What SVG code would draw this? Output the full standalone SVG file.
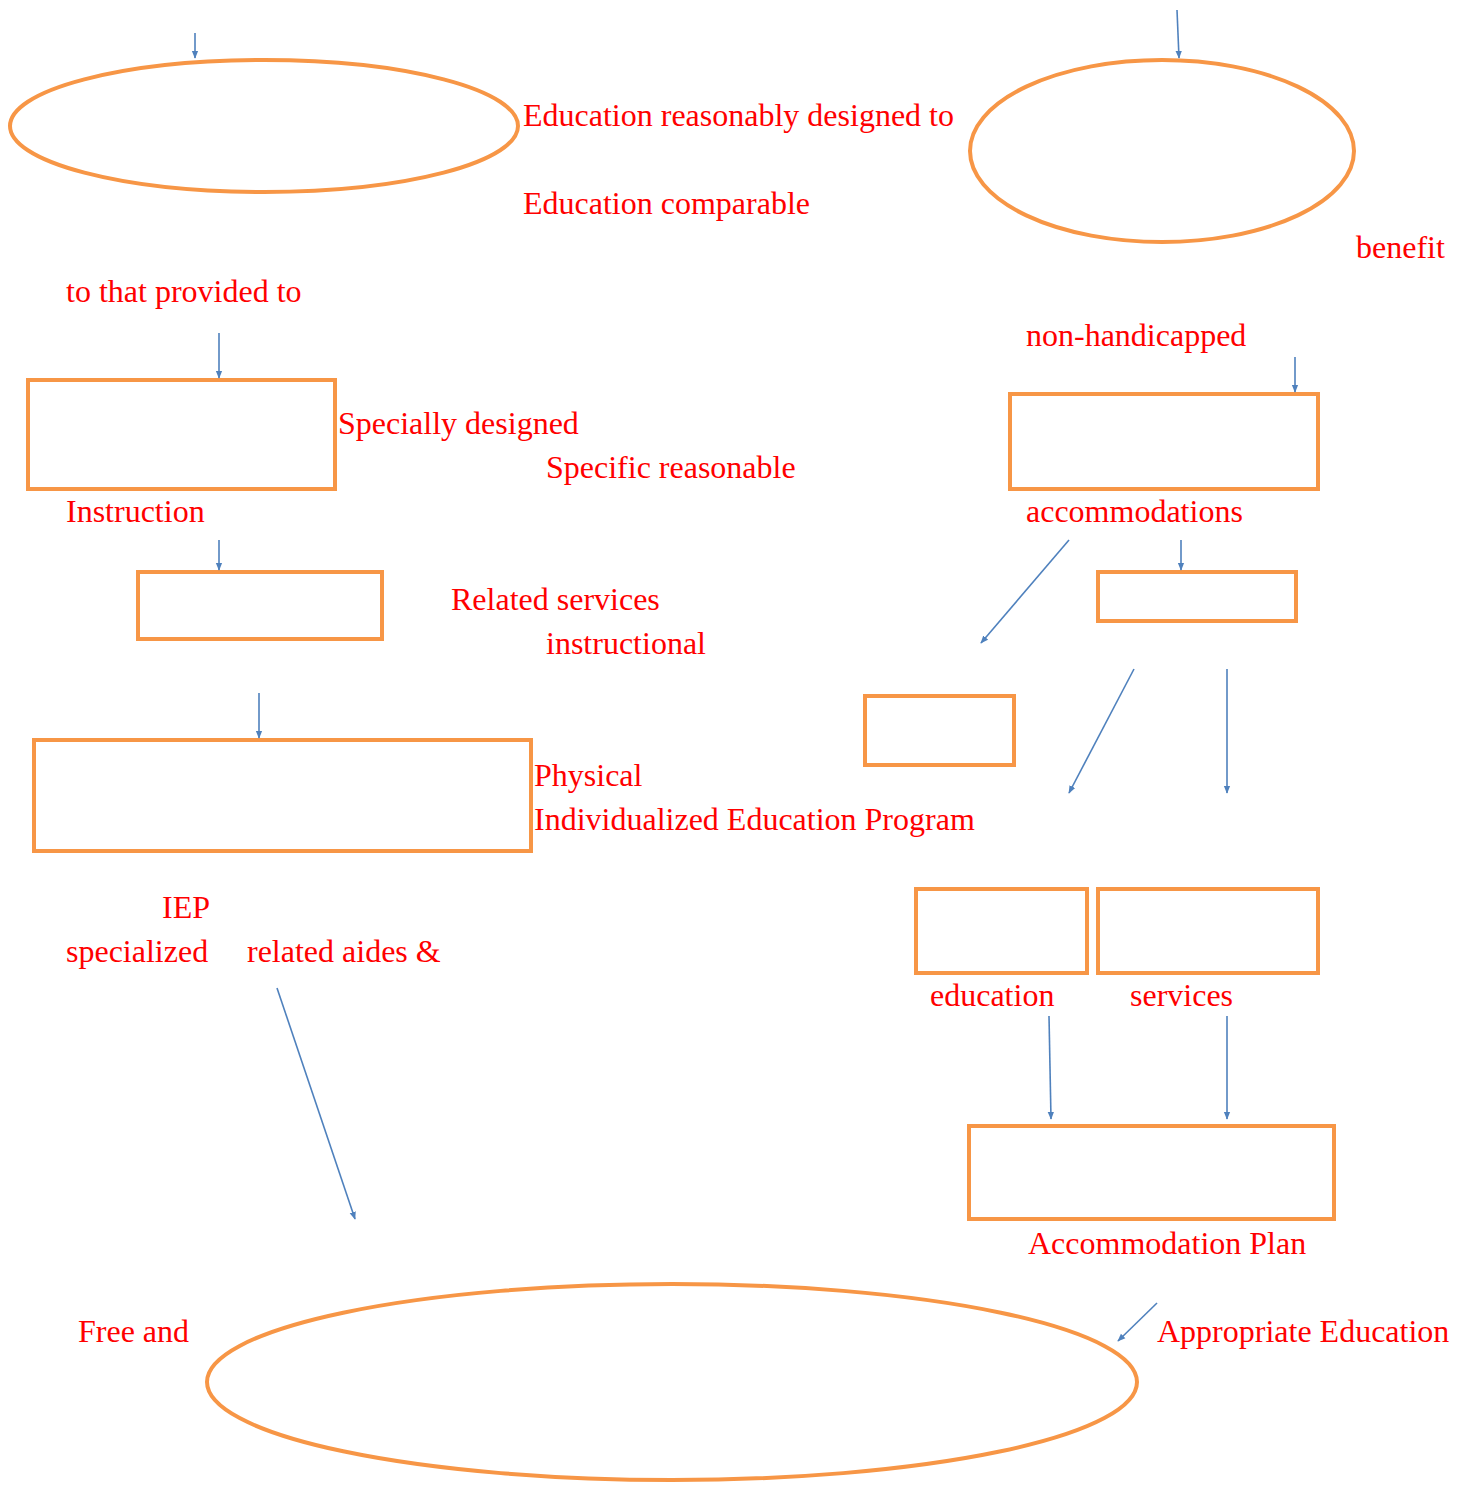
<svg xmlns="http://www.w3.org/2000/svg" width="1468" height="1485" viewBox="0 0 1468 1485">
<style>
.n{fill:none;stroke:#F79646;stroke-width:4}
.c line{stroke:#4F81BD;stroke-width:1.6;fill:none}
text{font-family:"Liberation Serif","Times New Roman",serif;font-size:32px;fill:#FF0000}
</style>
<defs>
<marker id="ah" viewBox="0 0 10 10" refX="9" refY="5" markerWidth="5" markerHeight="5" orient="auto" markerUnits="strokeWidth">
<path d="M0,1 L10,5 L0,9 Z" fill="#4F81BD"/>
</marker>
</defs>
<rect width="1468" height="1485" fill="#FFFFFF"/>
<g id="n1"><ellipse class="n" cx="264" cy="126" rx="254" ry="66"/></g>
<g id="n2"><ellipse class="n" cx="1162" cy="151" rx="192" ry="91"/></g>
<g id="n3"><rect class="n" x="28" y="380" width="307" height="109"/></g>
<g id="n4"><rect class="n" x="138" y="572" width="244" height="67"/></g>
<g id="n5"><rect class="n" x="34" y="740" width="497" height="111"/></g>
<g id="n6"><rect class="n" x="1010" y="394" width="308" height="95"/></g>
<g id="n7"><rect class="n" x="1098" y="572" width="198" height="49"/></g>
<g id="n8"><rect class="n" x="865" y="696" width="149" height="69"/></g>
<g id="n9"><rect class="n" x="916" y="889" width="171" height="84"/></g>
<g id="n10"><rect class="n" x="1098" y="889" width="220" height="84"/></g>
<g id="n11"><rect class="n" x="969" y="1126" width="365" height="93"/></g>
<g id="n12"><ellipse class="n" cx="672" cy="1382" rx="465" ry="98"/></g>
<g class="c" id="connectors">
<line x1="195" y1="33" x2="195" y2="58" marker-end="url(#ah)"/>
<line x1="1177" y1="10" x2="1179" y2="58" marker-end="url(#ah)"/>
<line x1="219" y1="333" x2="219" y2="378" marker-end="url(#ah)"/>
<line x1="219" y1="540" x2="219" y2="570" marker-end="url(#ah)"/>
<line x1="259" y1="693" x2="259" y2="738" marker-end="url(#ah)"/>
<line x1="1295" y1="357" x2="1295" y2="392" marker-end="url(#ah)"/>
<line x1="1181" y1="540" x2="1181" y2="570" marker-end="url(#ah)"/>
<line x1="1069" y1="540" x2="981" y2="643" marker-end="url(#ah)"/>
<line x1="1134" y1="669" x2="1069" y2="793" marker-end="url(#ah)"/>
<line x1="1227" y1="669" x2="1227" y2="793" marker-end="url(#ah)"/>
<line x1="1049" y1="1016" x2="1051" y2="1119" marker-end="url(#ah)"/>
<line x1="1227" y1="1016" x2="1227" y2="1119" marker-end="url(#ah)"/>
<line x1="277" y1="988" x2="355" y2="1219" marker-end="url(#ah)"/>
<line x1="1157" y1="1303" x2="1118" y2="1341" marker-end="url(#ah)"/>
</g>
<g id="labels">
<text x="523" y="126">Education reasonably designed to</text>
<text x="523" y="214">Education comparable</text>
<text x="1356" y="258">benefit</text>
<text x="66" y="302">to that provided to</text>
<text x="1026" y="346">non-handicapped</text>
<text x="338" y="434">Specially designed</text>
<text x="546" y="478">Specific reasonable</text>
<text x="66" y="522">Instruction</text>
<text x="1026" y="522">accommodations</text>
<text x="451" y="610">Related services</text>
<text x="546" y="654">instructional</text>
<text x="534" y="786">Physical</text>
<text x="534" y="830">Individualized Education Program</text>
<text x="162" y="918">IEP</text>
<text x="66" y="962">specialized</text>
<text x="247" y="962">related aides &amp;</text>
<text x="930" y="1006">education</text>
<text x="1130" y="1006">services</text>
<text x="1028" y="1254">Accommodation Plan</text>
<text x="78" y="1342">Free and</text>
<text x="1157" y="1342">Appropriate Education</text>
</g>
</svg>
